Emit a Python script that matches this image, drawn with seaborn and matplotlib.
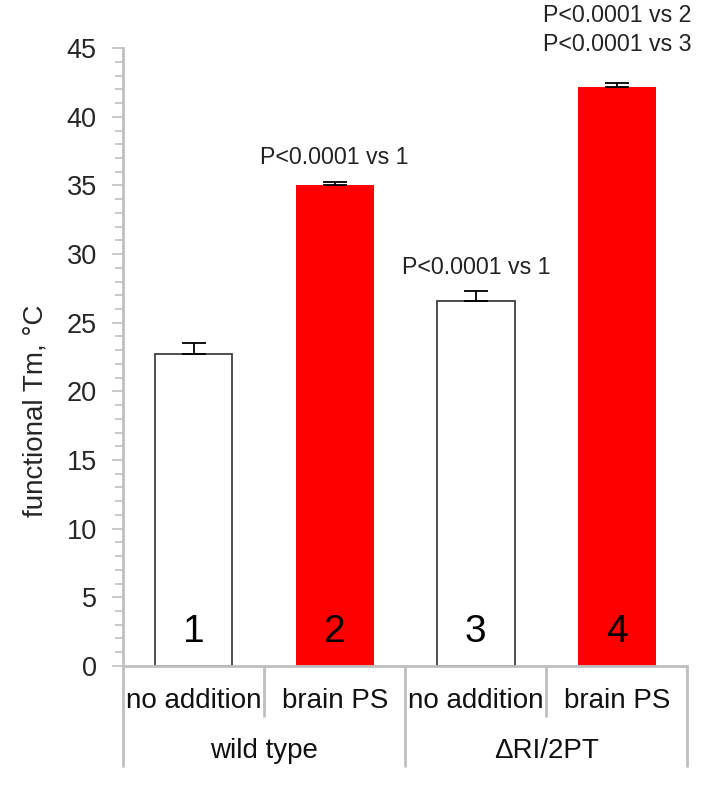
import matplotlib
matplotlib.use("Agg")
import matplotlib.pyplot as plt
import pandas as pd
import seaborn as sns
from matplotlib.ticker import MultipleLocator

conditions = ["no addition", "brain PS", "no addition", "brain PS"]
groups = ["wild type", "ΔRI/2PT"]
bar_numbers = ["1", "2", "3", "4"]
tm_values = [22.7, 35.0, 26.6, 42.2]
tm_errors = [0.8, 0.25, 0.7, 0.25]
bar_colors = ["#ffffff", "#ff0000", "#ffffff", "#ff0000"]
p_labels = {1: ["P<0.0001 vs 1"], 2: ["P<0.0001 vs 1"], 3: ["P<0.0001 vs 2", "P<0.0001 vs 3"]}

sns.set_style("white")
plt.rcParams["font.family"] = ["Liberation Sans", "DejaVu Sans"]

df = pd.DataFrame({"bar": bar_numbers, "tm": tm_values})

fig = plt.figure(figsize=(7.16, 7.89), dpi=100)
ax = fig.add_axes([0.172, 0.156, 0.788, 0.783])
sns.barplot(data=df, x="bar", y="tm", hue="bar", palette=bar_colors,
            width=0.55, legend=False, ax=ax, saturation=1)
for patch, color in zip(ax.patches, bar_colors):
    if color == "#ffffff":
        patch.set_edgecolor("#404040")
        patch.set_linewidth(1.3)
    else:
        patch.set_edgecolor(color)
        patch.set_linewidth(0)

pos = list(range(len(tm_values)))
ax.errorbar(pos, tm_values, yerr=[[0] * len(tm_errors), tm_errors], fmt="none",
            ecolor="black", elinewidth=1.3, capsize=8.5, capthick=1.3)

for i, num in enumerate(bar_numbers):
    ax.text(i, 2.45, num, ha="center", va="center", fontsize=28, color="black")

text_y = {1: [37.0], 2: [29.0], 3: [47.4, 45.3]}
for i, lines in p_labels.items():
    for line, yy in zip(lines, text_y[i]):
        ax.text(i, yy, line, ha="center", va="center", fontsize=16.7, color="#222222",
                clip_on=False)

ax.set_ylim(0, 45)
ax.set_xlim(-0.5, 3.5)
ax.yaxis.set_major_locator(MultipleLocator(5))
ax.yaxis.set_minor_locator(MultipleLocator(1))
ax.tick_params(axis="y", which="major", length=8, width=1.2, color="#bfbfbf",
               labelsize=19.5, left=True, pad=11)
ax.tick_params(axis="y", which="minor", length=6, width=1.2, color="#bfbfbf", left=True)
ax.set_xticks([])
ax.set_xlabel("")
ax.set_ylabel("functional Tm, °C", fontsize=20)
ax.yaxis.set_label_coords(-0.133, 0.413)

for side in ["top", "right"]:
    ax.spines[side].set_visible(False)
for side in ["left", "bottom"]:
    ax.spines[side].set_color("#bfbfbf")
    ax.spines[side].set_linewidth(2)

trans = ax.get_xaxis_transform()
for i, cond in enumerate(conditions):
    ax.text(i, -0.057, cond, ha="center", va="center", fontsize=20,
            color="#111111", transform=trans)
for g, name in enumerate(groups):
    ax.text(2 * g + 0.5, -0.138, name, ha="center", va="center", fontsize=20,
            color="#111111", transform=trans)
for k, xb in enumerate([-0.5, 0.5, 1.5, 2.5, 3.5]):
    depth = -0.162 if k % 2 == 0 else -0.081
    ax.plot([xb, xb], [0, depth], color="#bfbfbf", lw=2, transform=trans,
            clip_on=False)

fig.savefig("out.png", dpi=100)
